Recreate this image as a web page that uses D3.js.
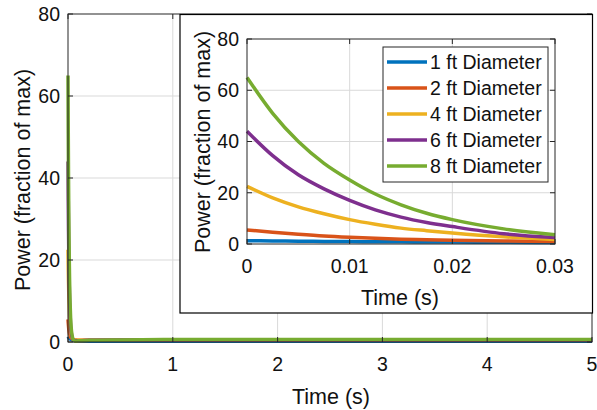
<!DOCTYPE html>
<html>
<head>
<meta charset="utf-8">
<script src="https://cdn.jsdelivr.net/npm/d3@7"></script>
<style>
  body { margin: 0; background: #fff; }
  text { font-family: "Liberation Sans", Arial, sans-serif; fill: #111; }
</style>
</head>
<body>
<div id="chart"></div>
<script>
// time samples (s)
const time = [0, 0.0025, 0.005, 0.0075, 0.01, 0.0125, 0.015, 0.0175, 0.02, 0.025, 0.03,
              0.04, 0.05, 0.07, 0.1, 0.2, 0.5, 1, 2, 3, 4, 5];

// power (fraction of max)
const power1ft = [1.3, 1.2, 1.1, 1.0, 0.95, 0.9, 0.85, 0.8, 0.75, 0.65, 0.6,
                  0.5, 0.4, 0.3, 0.25, 0.2, 0.2, 0.2, 0.2, 0.2, 0.2, 0.2];
const power2ft = [5.5, 4.6, 3.8, 3.1, 2.6, 2.2, 1.9, 1.7, 1.5, 1.2, 1.0,
                  0.8, 0.6, 0.5, 0.4, 0.4, 0.4, 0.4, 0.4, 0.4, 0.4, 0.4];
const power4ft = [22.5, 18, 14.5, 11.8, 9.5, 7.7, 6.2, 5.2, 4.3, 2.8, 1.8,
                  1.0, 0.6, 0.4, 0.4, 0.4, 0.5, 0.5, 0.5, 0.5, 0.5, 0.5];
const power6ft = [44, 34.5, 27, 21.5, 17, 13.3, 10.5, 8.4, 6.8, 4.0, 2.5,
                  1.1, 0.5, 0.3, 0.3, 0.4, 0.5, 0.5, 0.5, 0.5, 0.5, 0.5];
const power8ft = [65, 51, 40, 31.5, 25, 19.5, 15.3, 12, 9.5, 5.9, 3.6,
                  1.5, 0.6, 0.2, 0.3, 0.4, 0.5, 0.6, 0.6, 0.6, 0.6, 0.6];

const seriesNames = ["1 ft Diameter", "2 ft Diameter", "4 ft Diameter", "6 ft Diameter", "8 ft Diameter"];
const seriesValues = [power1ft, power2ft, power4ft, power6ft, power8ft];
const seriesColors = ["#0072BD", "#D95319", "#EDB120", "#7E2F8E", "#77AC30"];

const mainXTicks = [0, 1, 2, 3, 4, 5];
const mainYTicks = [0, 20, 40, 60, 80];
const insetXTicks = [0, 0.01, 0.02, 0.03];
const insetYTicks = [0, 20, 40, 60, 80];

const width = 597, height = 410;
const axisColor = "#262626";
const gridColor = "#d9d9d9";
const tickFont = 19.5, labelFont = 21.5;

const svg = d3.select("#chart").append("svg")
    .attr("width", width)
    .attr("height", height);

const series = seriesNames.map((name, i) => ({
    name: name,
    color: seriesColors[i],
    points: time.map((t, j) => ({ t: t, p: seriesValues[i][j] }))
}));

// draws one MATLAB-like axes box
function drawAxes(g, x, y, xTicks, yTicks, xFmt, id, maxT) {
    const [x0, x1] = x.range();
    const [y0, y1] = y.range(); // y0 bottom, y1 top

    // grid
    g.append("g").selectAll("line").data(xTicks.slice(1, -1)).join("line")
        .attr("x1", d => x(d)).attr("x2", d => x(d))
        .attr("y1", y0).attr("y2", y1)
        .attr("stroke", gridColor).attr("stroke-width", 1);
    g.append("g").selectAll("line").data(yTicks.slice(1, -1)).join("line")
        .attr("x1", x0).attr("x2", x1)
        .attr("y1", d => y(d)).attr("y2", d => y(d))
        .attr("stroke", gridColor).attr("stroke-width", 1);

    // clip + lines (clip only the data, not the stroke width)
    g.append("clipPath").attr("id", id)
        .append("rect")
        .attr("x", x0 - 2).attr("y", y1 - 2)
        .attr("width", x1 - x0 + 4).attr("height", y0 - y1 + 4);

    const line = d3.line()
        .x(d => x(d.t))
        .y(d => y(d.p))
        .curve(d3.curveMonotoneX);

    g.append("g").attr("clip-path", `url(#${id})`)
        .selectAll("path").data(series).join("path")
        .attr("d", d => line(d.points.filter(p => p.t <= maxT)))
        .attr("fill", "none")
        .attr("stroke", d => d.color)
        .attr("stroke-width", 3.5)
        .attr("stroke-linejoin", "round");

    // box
    g.append("rect")
        .attr("x", x0).attr("y", y1)
        .attr("width", x1 - x0).attr("height", y0 - y1)
        .attr("fill", "none").attr("stroke", axisColor).attr("stroke-width", 1);

    // inward ticks on all sides
    const tl = 5;
    const ticks = g.append("g").attr("stroke", axisColor).attr("stroke-width", 1);
    xTicks.forEach(d => {
        ticks.append("line").attr("x1", x(d)).attr("x2", x(d)).attr("y1", y0).attr("y2", y0 - tl);
        ticks.append("line").attr("x1", x(d)).attr("x2", x(d)).attr("y1", y1).attr("y2", y1 + tl);
    });
    yTicks.forEach(d => {
        ticks.append("line").attr("x1", x0).attr("x2", x0 + tl).attr("y1", y(d)).attr("y2", y(d));
        ticks.append("line").attr("x1", x1).attr("x2", x1 - tl).attr("y1", y(d)).attr("y2", y(d));
    });

    // tick labels
    g.append("g").selectAll("text").data(xTicks).join("text")
        .attr("x", d => x(d))
        .attr("y", y0 + 22)
        .attr("dy", "0.35em")
        .attr("text-anchor", "middle")
        .style("font-size", tickFont + "px")
        .text(xFmt);
    g.append("g").selectAll("text").data(yTicks).join("text")
        .attr("x", x0 - 8)
        .attr("y", d => y(d))
        .attr("dy", "0.35em")
        .attr("text-anchor", "end")
        .style("font-size", tickFont + "px")
        .text(d => d);
}

// ---------------- main axes ----------------
const xMain = d3.scaleLinear().domain([0, 5]).range([68, 592]);
const yMain = d3.scaleLinear().domain([0, 80]).range([342, 14]);
const gMain = svg.append("g");
drawAxes(gMain, xMain, yMain, mainXTicks, mainYTicks, d => d, "clipMain", 5);

gMain.append("text")
    .attr("x", 331).attr("y", 396).attr("dy", "0.35em")
    .attr("text-anchor", "middle")
    .style("font-size", labelFont + "px")
    .text("Time (s)");
gMain.append("text")
    .attr("transform", "translate(22,180) rotate(-90)")
    .attr("dy", "0.35em")
    .attr("text-anchor", "middle")
    .style("font-size", labelFont + "px")
    .text("Power (fraction of max)");

// ---------------- inset ----------------
const gInset = svg.append("g");
gInset.append("rect")
    .attr("x", 180).attr("y", 14.5)
    .attr("width", 412.5).attr("height", 298.5)
    .attr("fill", "#fff").attr("stroke", "#000").attr("stroke-width", 1.2);

const xIn = d3.scaleLinear().domain([0, 0.03]).range([247, 555]);
const yIn = d3.scaleLinear().domain([0, 80]).range([244, 39]);
drawAxes(gInset, xIn, yIn, insetXTicks, insetYTicks, d => d3.format("")(+d.toFixed(2)), "clipInset", 0.03);

gInset.append("text")
    .attr("x", 400).attr("y", 297).attr("dy", "0.35em")
    .attr("text-anchor", "middle")
    .style("font-size", labelFont + "px")
    .text("Time (s)");
gInset.append("text")
    .attr("transform", "translate(202,142) rotate(-90)")
    .attr("dy", "0.35em")
    .attr("text-anchor", "middle")
    .style("font-size", labelFont + "px")
    .text("Power (fraction of max)");

// legend
const legend = gInset.append("g").attr("transform", "translate(383,47)");
legend.append("rect")
    .attr("width", 165).attr("height", 135)
    .attr("fill", "#fff").attr("stroke", axisColor).attr("stroke-width", 1);
const items = legend.selectAll("g").data(series).join("g")
    .attr("transform", (d, i) => `translate(0,${15 + i * 26})`);
items.append("line")
    .attr("x1", 4).attr("x2", 44)
    .attr("stroke", d => d.color).attr("stroke-width", 3.5);
items.append("text")
    .attr("x", 47).attr("dy", "0.35em")
    .style("font-size", tickFont + "px")
    .text(d => d.name);
</script>
</body>
</html>
